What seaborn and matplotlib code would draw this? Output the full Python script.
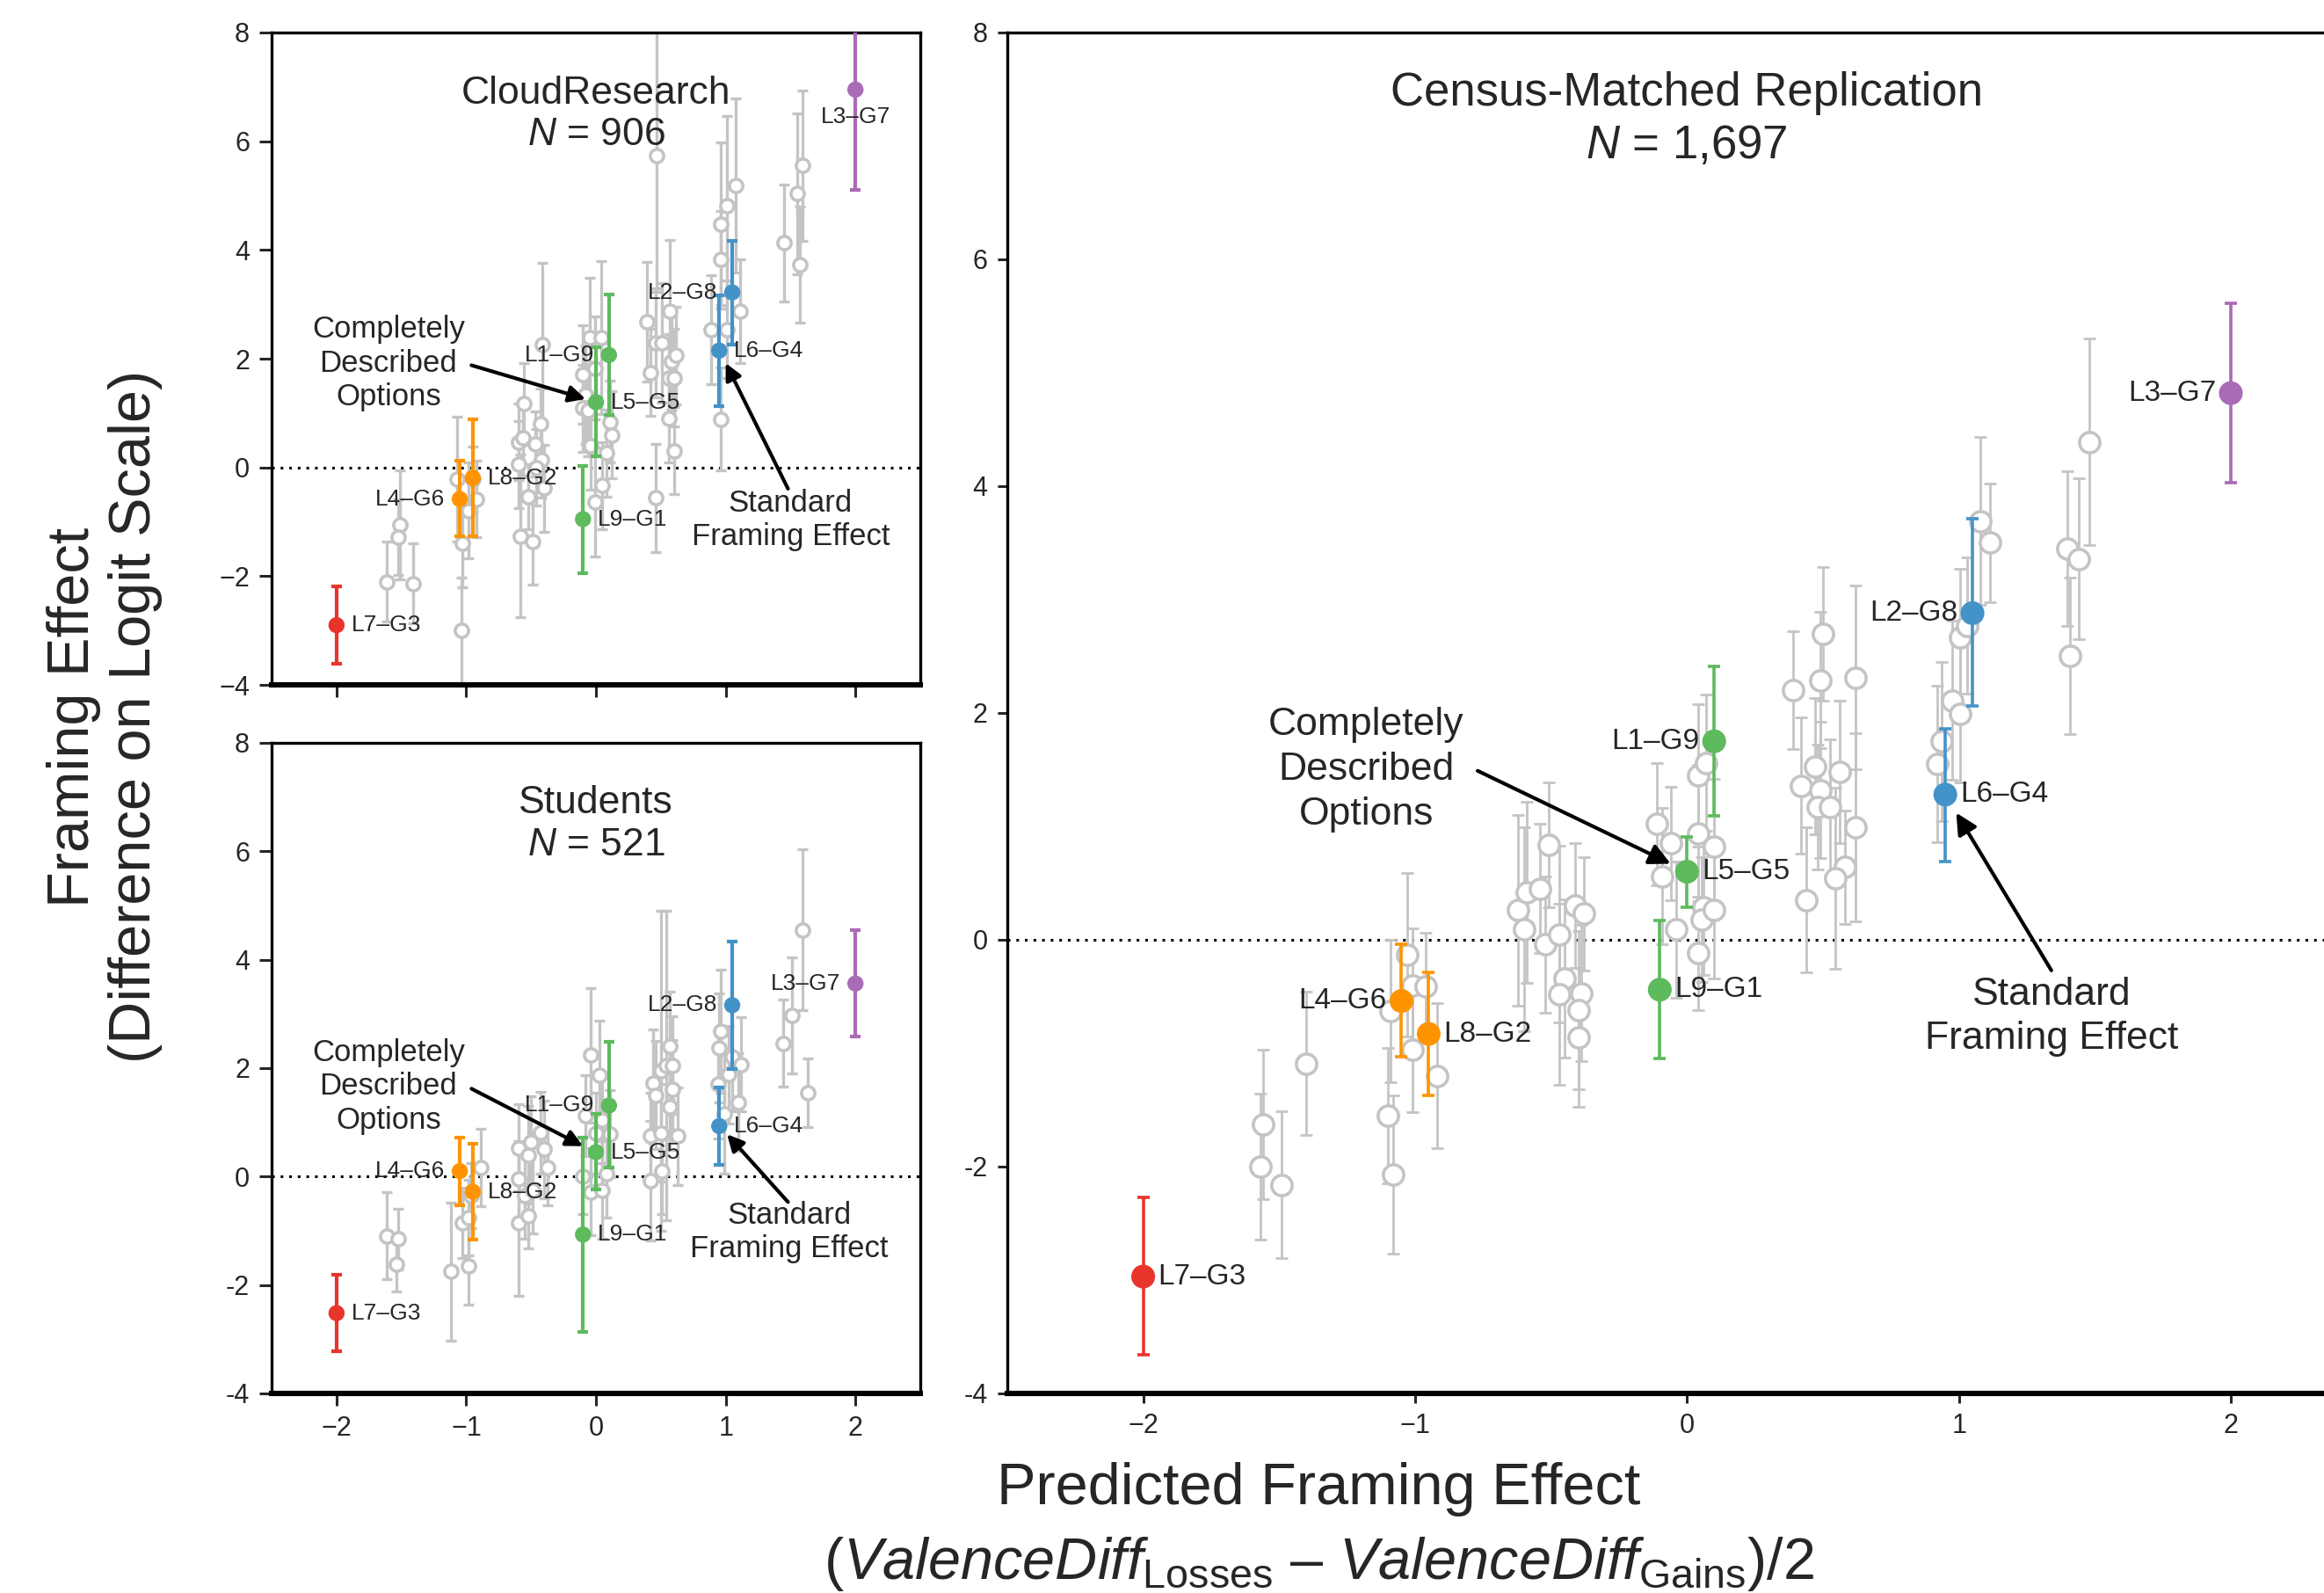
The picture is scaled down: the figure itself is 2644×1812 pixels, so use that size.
import numpy as np
import matplotlib
matplotlib.use("Agg")
import matplotlib.pyplot as plt
import seaborn as sns

# ---------------------------------------------------------------
# data
# ---------------------------------------------------------------
pair_labels = ['L7–G3', 'L4–G6', 'L8–G2', 'L9–G1', 'L5–G5', 'L1–G9', 'L6–G4', 'L2–G8', 'L3–G7']
pair_x = [-2.0, -1.05, -0.95, -0.1, 0.0, 0.1, 0.95, 1.05, 2.0]

cloud_y = [-2.90, -0.58, -0.19, -0.95, 1.20, 2.07, 2.15, 3.22, 6.95]
cloud_lo = [-3.61, -1.26, -1.26, -1.94, 0.21, 0.97, 1.12, 2.26, 5.10]
cloud_hi = [-2.19, 0.12, 0.89, 0.03, 2.21, 3.18, 3.16, 4.17, 8.80]

stud_y = [-2.52, 0.10, -0.28, -1.07, 0.45, 1.31, 0.93, 3.16, 3.56]
stud_lo = [-3.22, -0.53, -1.17, -2.86, -0.24, 0.17, 0.21, 1.98, 2.59]
stud_hi = [-1.81, 0.71, 0.61, 0.71, 1.15, 2.48, 1.65, 4.33, 4.54]

census_y = [-2.97, -0.54, -0.83, -0.44, 0.60, 1.75, 1.28, 2.88, 4.82]
census_lo = [-3.66, -1.03, -1.37, -1.05, 0.29, 1.09, 0.69, 2.06, 4.03]
census_hi = [-2.27, -0.04, -0.29, 0.17, 0.91, 2.41, 1.86, 3.71, 5.61]

# other loss-gain combinations (grey)
cloud_gx = [-1.51, -1.525, -1.61, -1.41, -1.07, -1.03, -1.04, -0.98, -0.92, -0.95,
            -0.60, -0.555, -0.565, -0.60, -0.585, -0.52, -0.49, -0.47, -0.43, -0.415,
            -0.42, -0.40, -0.46, -0.05, 0.04, -0.10, -0.08, -0.10, -0.06, -0.01,
            0.11, 0.12, 0.08, 0.05, -0.01, -0.04, 0.47, 0.39, 0.42, 0.46,
            0.51, 0.57, 0.58, 0.56, 0.60, 0.615, 0.46, 0.60, 0.56, 0.96,
            1.01, 1.08, 0.96, 0.89, 1.01, 1.11, 0.96, 1.45, 1.55, 1.59, 1.57]
cloud_gy = [-1.06, -1.28, -2.10, -2.13, -0.21, -1.40, -3.00, -0.79, -0.58, -0.22,
            0.47, 1.17, 0.55, 0.06, -1.26, -0.54, -1.36, 0.43, 0.80, 2.26,
            0.14, -0.38, 0.00, 2.39, 2.39, 1.71, 1.34, 1.09, 1.05, 1.83,
            0.84, 0.60, 0.27, -0.33, -0.64, 0.40, 5.73, 2.68, 1.75, 2.29,
            2.29, 2.88, 1.96, 1.65, 1.65, 2.06, -0.56, 0.31, 0.90, 4.48,
            4.82, 5.18, 3.82, 2.54, 2.54, 2.87, 0.89, 4.13, 5.04, 5.55, 3.73]
cloud_gerr = [1.00, 0.70, 0.73, 0.73, 1.15, 0.80, 0.98, 0.88, 0.70, 0.60,
              0.70, 0.75, 0.70, 0.80, 1.50, 0.60, 0.80, 0.60, 0.65, 1.50,
              0.70, 0.80, 0.70, 1.10, 1.40, 0.90, 0.90, 0.80, 0.85, 0.95,
              0.75, 0.80, 0.80, 0.80, 1.00, 0.80, 2.50, 1.10, 0.80, 1.00,
              1.10, 1.30, 0.90, 0.80, 0.90, 0.90, 1.00, 0.80, 0.80, 1.50,
              1.65, 1.60, 0.90, 1.00, 0.90, 0.95, 0.95, 1.08, 1.48, 1.38, 1.07]

stud_gx = [-1.61, -1.525, -1.54, -1.12, -1.03, -0.98, -0.98, -0.89, -0.96,
           -0.60, -0.52, -0.50, -0.60, -0.60, -0.52, -0.55, -0.43, -0.40, -0.37, -0.49,
           -0.04, 0.03, -0.08, 0.05, 0.00, 0.11, -0.10, -0.04, 0.08, 0.05,
           0.42, 0.42, 0.44, 0.46, 0.50, 0.50, 0.57, 0.54, 0.59, 0.59, 0.57, 0.63, 0.51,
           0.96, 0.945, 1.05, 1.02, 1.12, 0.94, 0.99, 1.10,
           1.59, 1.51, 1.44, 1.63]
stud_gy = [-1.09, -1.15, -1.62, -1.75, -0.86, -0.76, -1.65, 0.17, -0.35,
           0.53, 0.40, 0.63, -0.05, -0.86, -0.72, -0.35, 0.81, 0.50, 0.17, -0.25,
           2.24, 1.87, 1.12, 1.05, 0.80, 0.79, 0.01, -0.28, 0.05, -0.25,
           -0.08, 0.75, 1.72, 1.50, 1.95, 0.80, 2.41, 2.05, 2.05, 1.61, 1.29, 0.75, 0.10,
           2.68, 2.37, 2.21, 1.88, 2.07, 1.70, 1.15, 1.37,
           4.55, 2.97, 2.46, 1.55]
stud_gerr = [0.81, 0.56, 0.50, 1.27, 0.65, 0.70, 0.72, 0.71, 0.60,
             0.80, 0.90, 0.85, 0.70, 1.34, 0.60, 0.80, 0.75, 0.90, 0.70, 0.80,
             1.24, 1.00, 0.75, 0.80, 0.75, 0.80, 0.70, 0.80, 0.80, 0.90,
             1.10, 0.80, 1.00, 1.00, 2.95, 0.90, 1.00, 2.85, 0.90, 0.90, 0.80, 0.90, 0.80,
             1.13, 1.00, 1.00, 0.90, 0.87, 1.00, 1.10, 0.90,
             1.48, 1.07, 0.80, 0.63]

census_gx = [-1.56, -1.57, -1.49, -1.40, -1.09, -1.10, -1.08, -1.03, -1.01, -1.01, -0.96, -0.92,
             -0.62, -0.60, -0.59, -0.54, -0.51, -0.52, -0.47, -0.45, -0.47, -0.41, -0.38,
             -0.39, -0.40, -0.40,
             -0.11, -0.09, -0.06, -0.04, 0.04, 0.07, 0.04, 0.10, 0.06, 0.055, 0.10, 0.04,
             0.39, 0.50, 0.49, 0.62, 0.42, 0.47, 0.49, 0.48, 0.525, 0.56, 0.62, 0.58, 0.545, 0.44,
             1.08, 1.115, 1.005, 1.03, 0.975, 1.005, 0.935, 0.92,
             1.48, 1.40, 1.44, 1.41]
census_gy = [-1.63, -2.00, -2.16, -1.09, -0.63, -1.55, -2.07, -0.13, -0.40, -0.97, -0.41, -1.20,
             0.26, 0.09, 0.42, 0.45, 0.84, -0.04, 0.05, -0.34, -0.48, 0.30, 0.23,
             -0.47, -0.62, -0.86,
             1.02, 0.56, 0.85, 0.09, 1.45, 1.56, 0.94, 0.82, 0.29, 0.18, 0.26, -0.12,
             2.20, 2.70, 2.29, 2.31, 1.36, 1.53, 1.32, 1.17, 1.17, 1.48, 0.99, 0.64, 0.54, 0.35,
             3.69, 3.50, 2.67, 2.77, 2.11, 1.99, 1.75, 1.55,
             4.39, 3.45, 3.36, 2.50]
census_gerr = [0.66, 0.64, 0.65, 0.63, 0.63, 0.60, 0.70, 0.72, 0.50, 0.55, 0.47, 0.64,
               0.84, 0.90, 0.80, 0.57, 0.55, 0.60, 0.78, 0.70, 0.80, 0.55, 0.50,
               0.60, 0.70, 0.61,
               0.54, 0.60, 0.50, 0.60, 0.63, 0.60, 0.60, 0.60, 0.60, 0.55, 0.60, 0.50,
               0.52, 0.59, 0.60, 0.81, 0.60, 0.60, 0.60, 0.55, 0.60, 0.63, 0.83, 0.50, 0.80, 0.64,
               0.74, 0.52, 0.60, 0.60, 0.70, 0.60, 0.70, 0.69,
               0.91, 0.68, 0.71, 0.69]

pair_colors = ['#E8352B', '#FF9400', '#FF9400', '#5DBA5D', '#5DBA5D', '#5DBA5D',
               '#4393C8', '#4393C8', '#A96BB6']
grey = '#C4C4C4'

sns.set_style("ticks")
plt.rcParams['font.family'] = ['Liberation Sans', 'DejaVu Sans']
plt.rcParams['mathtext.fontset'] = 'custom'
plt.rcParams['mathtext.rm'] = 'Liberation Sans'
plt.rcParams['mathtext.it'] = 'Liberation Sans:italic'
plt.rcParams['axes.unicode_minus'] = True


def draw_panel(ax, gx, gy, gerr, py, plo, phi, big, label_side):
    if big:
        ms_g, ms_c, elw, cap, lab_fs = 70, 95, 1.0, 2.6, 12
    else:
        ms_g, ms_c, elw, cap, lab_fs = 30, 44, 1.2, 2.3, 9.5

    ax.axhline(0, color='black', ls=(0, (1, 2.2)), lw=1.1, zorder=0)

    ax.errorbar(gx, gy, yerr=gerr, fmt='none', ecolor=grey, elinewidth=elw,
                capsize=cap, capthick=elw, zorder=1)
    sns.scatterplot(x=gx, y=gy, ax=ax, s=ms_g, color='white', edgecolor=grey,
                    linewidth=1.3, zorder=2, legend=False)

    for i, lab in enumerate(pair_labels):
        ax.errorbar([pair_x[i]], [py[i]],
                    yerr=[[py[i] - plo[i]], [phi[i] - py[i]]],
                    fmt='none', ecolor=pair_colors[i], elinewidth=elw + 0.3,
                    capsize=cap, capthick=elw + 0.3, zorder=3)
    sns.scatterplot(x=pair_x, y=py, ax=ax, s=ms_c, hue=pair_labels,
                    palette=dict(zip(pair_labels, pair_colors)),
                    edgecolor='none', zorder=4, legend=False)

    for i, lab in enumerate(pair_labels):
        side = label_side.get(lab, 'right')
        if side == 'right':
            off, ha, va = (6, 0), 'left', 'center'
        elif side == 'left':
            off, ha, va = (-6, 0), 'right', 'center'
        else:
            off, ha, va = (0, -7), 'center', 'top'
        ax.annotate(lab, (pair_x[i], py[i]), xytext=off, textcoords='offset points',
                    ha=ha, va=va, fontsize=lab_fs, zorder=5)

    ax.set_xlim(-2.5, 2.5)
    ax.set_ylim(-4, 8)
    ax.set_xticks([-2, -1, 0, 1, 2])
    ax.set_yticks([-4, -2, 0, 2, 4, 6, 8])
    ax.tick_params(direction='out', length=5, width=1.1, labelsize=11, pad=4)
    for s in ax.spines.values():
        s.set_linewidth(1.2)
        s.set_color('black')
    ax.spines['bottom'].set_linewidth(2.2)


fig = plt.figure(figsize=(13.22, 9.06), dpi=200)
ax1 = fig.add_axes([0.1169, 0.5700, 0.2791, 0.4096])
ax2 = fig.add_axes([0.1169, 0.1253, 0.2791, 0.4084])
ax3 = fig.add_axes([0.4334, 0.1253, 0.5850, 0.8543])

left_sides = {'L4–G6': 'left', 'L1–G9': 'left', 'L2–G8': 'left', 'L3–G7': 'below'}
draw_panel(ax1, cloud_gx, cloud_gy, cloud_gerr, cloud_y, cloud_lo, cloud_hi, False, left_sides)
draw_panel(ax2, stud_gx, stud_gy, stud_gerr, stud_y, stud_lo, stud_hi, False,
           {'L4–G6': 'left', 'L1–G9': 'left', 'L2–G8': 'left', 'L3–G7': 'left'})
draw_panel(ax3, census_gx, census_gy, census_gerr, census_y, census_lo, census_hi, True,
           {'L4–G6': 'left', 'L1–G9': 'left', 'L2–G8': 'left', 'L3–G7': 'left'})

ax1.set_xticklabels([])
ax2.set_yticklabels(['-4', '-2', '0', '2', '4', '6', '8'])
ax3.set_yticklabels(['-4', '-2', '0', '2', '4', '6', '8'])
ax3.spines['right'].set_visible(False)
ax3.tick_params(length=4)

# panel titles
ax1.text(0, 6.5, 'CloudResearch\n$\\mathit{N}$ = 906', ha='center', va='center',
         fontsize=16, linespacing=1.2)
ax2.text(0, 6.5, 'Students\n$\\mathit{N}$ = 521', ha='center', va='center',
         fontsize=16, linespacing=1.2)
ax3.text(0, 7.23, 'Census-Matched Replication\n$\\mathit{N}$ = 1,697', ha='center',
         va='center', fontsize=19, linespacing=1.25)

# call-outs
arrow = dict(arrowstyle='-|>', color='black', lw=1.5, mutation_scale=14, shrinkA=0, shrinkB=0)
ax1.text(-1.6, 1.92, 'Completely\nDescribed\nOptions', ha='center', va='center', fontsize=12.5)
ax1.annotate('', xy=(-0.08, 1.26), xytext=(-0.96, 1.88), arrowprops=arrow)
ax1.text(1.5, -0.97, 'Standard\nFraming Effect', ha='center', va='center', fontsize=12.5)
ax1.annotate('', xy=(1.0, 1.92), xytext=(1.48, -0.39), arrowprops=arrow)

ax2.text(-1.6, 1.66, 'Completely\nDescribed\nOptions', ha='center', va='center', fontsize=12.5)
ax2.annotate('', xy=(-0.1, 0.56), xytext=(-0.96, 1.62), arrowprops=arrow)
ax2.text(1.49, -1.03, 'Standard\nFraming Effect', ha='center', va='center', fontsize=12.5)
ax2.annotate('', xy=(1.01, 0.78), xytext=(1.48, -0.47), arrowprops=arrow)

arrow_big = dict(arrow, mutation_scale=18)
ax3.text(-1.18, 1.50, 'Completely\nDescribed\nOptions', ha='center', va='center',
         fontsize=16, linespacing=1.3)
ax3.annotate('', xy=(-0.06, 0.67), xytext=(-0.77, 1.49), arrowprops=arrow_big)
ax3.text(1.34, -0.68, 'Standard\nFraming Effect', ha='center', va='center',
         fontsize=16, linespacing=1.3)
ax3.annotate('', xy=(0.99, 1.12), xytext=(1.34, -0.27), arrowprops=arrow_big)

# axis titles
fig.text(0.045, 0.55, 'Framing Effect\n(Difference on Logit Scale)', rotation=90,
         ha='center', va='center', fontsize=24, linespacing=1.15)
fig.text(0.5675, 0.065, 'Predicted Framing Effect', ha='center', va='center', fontsize=24)
fig.text(0.5675, 0.018,
         '($\\mathit{ValenceDiff}_{\\mathrm{Losses}}$ – $\\mathit{ValenceDiff}_{\\mathrm{Gains}}$)/2',
         ha='center', va='center', fontsize=24)

fig.savefig('out.png', dpi=200)
